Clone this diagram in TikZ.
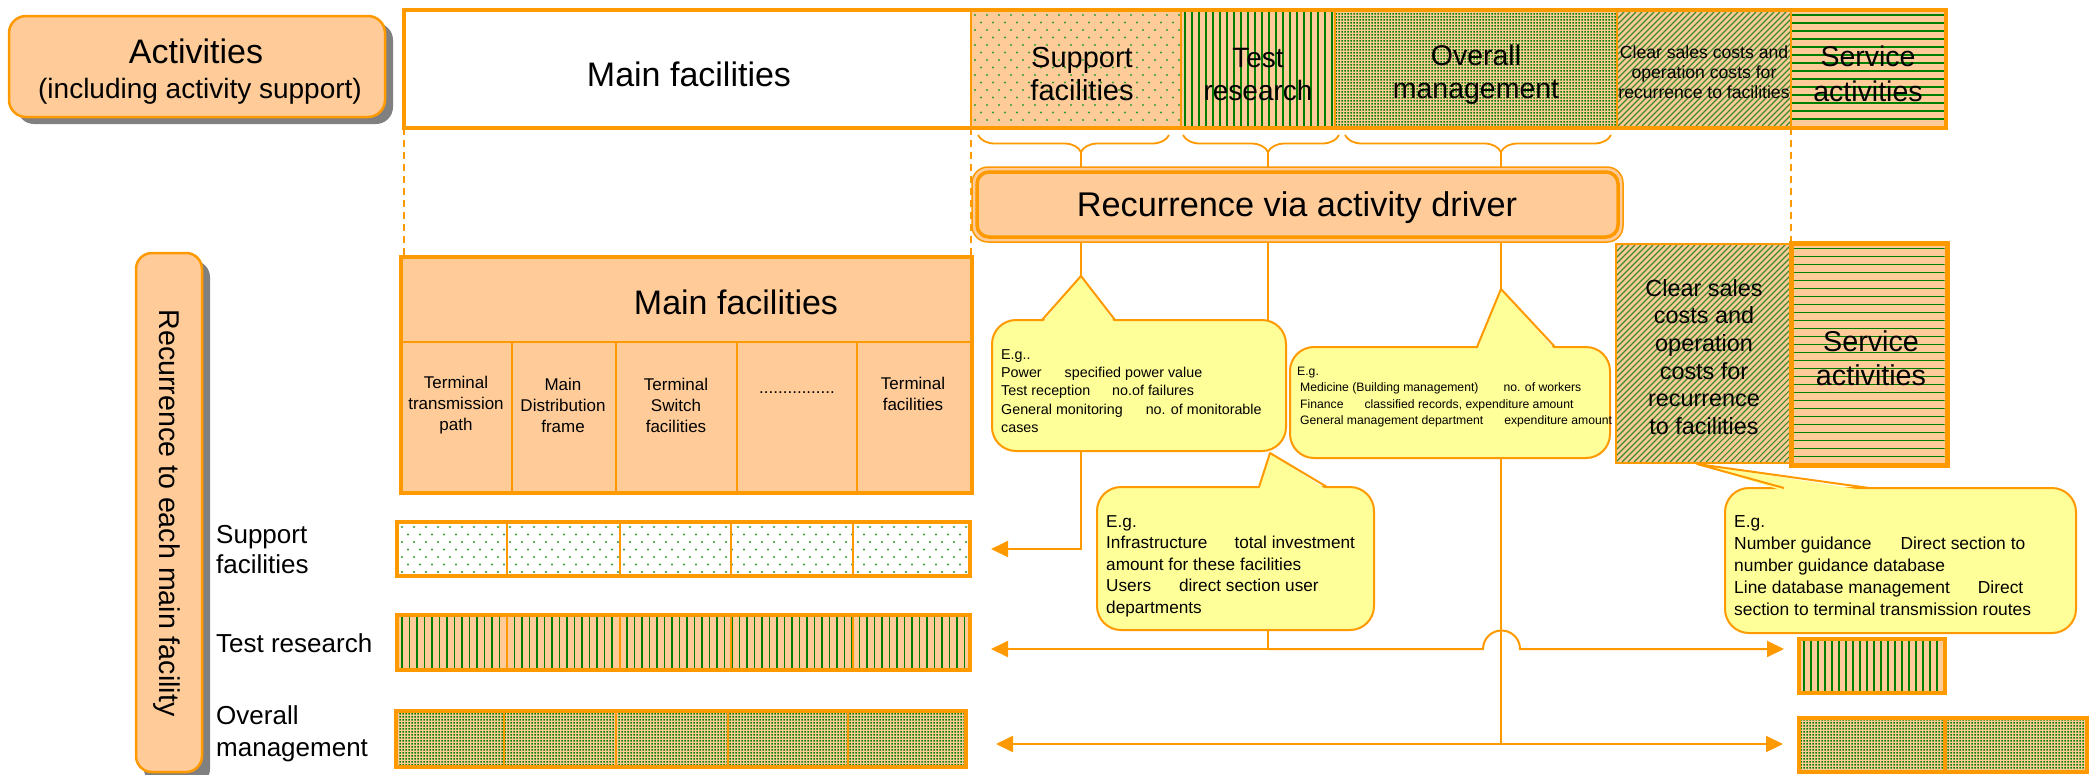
\documentclass[tikz,border=0pt]{standalone}
\usepackage{fontspec}
\setmainfont{Liberation Sans}
\usetikzlibrary{patterns,arrows.meta,decorations.pathreplacing}
\definecolor{orng}{HTML}{FF9900}
\definecolor{peach}{HTML}{FFCC99}
\definecolor{yel}{HTML}{FFFF99}
\definecolor{grn}{HTML}{008000}
\definecolor{hgrn}{HTML}{3C8A2E}
\definecolor{dotgrn}{HTML}{2E9E2E}
\definecolor{shad}{HTML}{808080}
\newcommand\myfs[2]{\fontsize{#1}{#2}\selectfont}
\pgfdeclarepatternformonly{fdot}{\pgfqpoint{0pt}{0pt}}{\pgfqpoint{3pt}{3pt}}{\pgfqpoint{3pt}{3pt}}{%
  \pgfpathrectangle{\pgfqpoint{0.6pt}{0.6pt}}{\pgfqpoint{1.8pt}{1.8pt}}%
  \pgfusepath{fill}}
% vertical lines: x1 y1 x2 y2 step
\newcommand\patvl[5]{%
  \begin{scope}\clip (#1,#2) rectangle (#3,#4);
  \pgfmathsetmacro\mya{#1+3}\pgfmathsetmacro\myb{#1+3+#5}
  \foreach \xx in {\mya,\myb,...,#3} \draw[grn, line width=1.5pt] (\xx,#2) -- (\xx,#4);
  \end{scope}}
% horizontal lines
\newcommand\pathl[5]{%
  \begin{scope}\clip (#1,#2) rectangle (#3,#4);
  \pgfmathsetmacro\mya{#2+3}\pgfmathsetmacro\myb{#2+3+#5}
  \foreach \yy in {\mya,\myb,...,#4} \draw[grn, line width=1.8pt] (#1,\yy) -- (#3,\yy);
  \end{scope}}
% diagonal lines
\newcommand\patdg[5]{%
  \begin{scope}\clip (#1,#2) rectangle (#3,#4);
  \pgfmathsetmacro\myh{#4-#2}
  \pgfmathsetmacro\mya{#1-\myh}\pgfmathsetmacro\myb{#1-\myh+#5}
  \foreach \xx in {\mya,\myb,...,#3} \draw[hgrn, line width=1.1pt] (\xx,#4) -- ({\xx+\myh},#2);
  \end{scope}}
% staggered dots
\newcommand\patsd[4]{%
  \begin{scope}\clip (#1,#2) rectangle (#3,#4);
  \pgfmathsetmacro\mya{#1+3}\pgfmathsetmacro\myb{#1+15}
  \pgfmathsetmacro\myc{#2+3}\pgfmathsetmacro\myd{#2+18}
  \foreach \xx in {\mya,\myb,...,#3} \foreach \yy in {\myc,\myd,...,#4}
    {\fill[dotgrn] (\xx,\yy) circle (1.05pt); \fill[dotgrn] ({\xx+6},{\yy+7.5}) circle (1.05pt);}
  \end{scope}}
\begin{document}
\begin{tikzpicture}[x=1pt,y=-1pt,
  box/.style={draw=orng, inner sep=0pt, outer sep=0pt, anchor=north west},
  wh/.style 2 args={minimum width=#1pt, minimum height=#2pt},
  txt/.style={inner sep=0pt, align=center, text=black},
  ltxt/.style={inner sep=0pt, align=left, anchor=west, text=black},
  conn/.style={draw=orng, line width=2pt},
  tip/.style={-{Triangle[length=17pt,width=16pt]}},
  dashln/.style={draw=orng, line width=2pt, dash pattern=on 7pt off 5pt},
  brc/.style={draw=orng, line width=1.8pt, decorate, decoration={brace, mirror, amplitude=17pt, aspect=#1}},
  callout/.style={box, fill=yel, line width=2pt, rounded corners=24pt},
  ptr/.style={draw=orng, line width=2pt, line join=round},
  pk/.style={fill=peach},
  fd/.style={preaction={fill=peach}, pattern=fdot, pattern color=grn},
  div/.style={draw=orng, line width=2pt},
]
\useasboundingbox (0,0) rectangle (2091,774);
\fill[white] (0,0) rectangle (2091,774);

% ---------- Activities box ----------
\fill[shad, rounded corners=17pt] (17,23) rectangle (393,124);
\node[box, wh={376}{101}, fill=peach, line width=2.5pt, rounded corners=17pt] (act) at (9,16) {};
\node[txt, font=\myfs{34}{40}] (tact1) at (196,51) {Activities};
\node[txt, font=\myfs{28}{32}] (tact2) at (200,91) {(including activity support)};

% ---------- top row ----------
\node[box, wh={567}{118}, fill=white, line width=1.5pt] (tmain) at (404,10) {};
\node[box, wh={210}{118}, pk, line width=1.5pt] (tsup) at (971,10) {};
\node[box, wh={154}{118}, pk, line width=1.5pt] (ttest) at (1181,10) {};
\node[box, wh={282}{118}, fd, line width=1.5pt] (tover) at (1335,10) {};
\node[box, wh={174}{118}, pk, line width=1.5pt] (tclear) at (1617,10) {};
\node[box, wh={155}{118}, pk, line width=1.5pt] (tserv) at (1791,10) {};
\patsd{972}{12}{1180}{126}
\patvl{1182}{12}{1334}{126}{7}
\patdg{1618}{12}{1790}{126}{6}
\pathl{1792}{12}{1945}{126}{8}
\draw[orng, line width=1.5pt] (tsup.north west) -- (tsup.south west) (ttest.north west) -- (ttest.south west) (tover.north west) -- (tover.south west) (tclear.north west) -- (tclear.south west) (tserv.north west) -- (tserv.south west);
\node[box, wh={1542}{118}, line width=4pt] (toprow) at (404,10) {};
\node[txt, font=\myfs{34}{40}] (ttmain) at (689,74) {Main facilities};
\node[txt, font=\myfs{29}{33}] (ttsup) at (1082,74.5) {Support\\facilities};
\node[txt, font=\myfs{28}{33}] (tttest) at (1258,74.5) {Test\\research};
\node[txt, font=\myfs{28.5}{33}] (ttover) at (1476,74.5) {Overall\\management};
\node[txt, font=\myfs{17.6}{20}] (ttclear) at (1704,72) {Clear sales costs and\\operation costs for\\recurrence to facilities};
\node[txt, font=\myfs{28.5}{35}] (ttserv) at (1868,73.4) {Service\\activities};

% ---------- braces ----------
\draw[brc=0.539] (978,135) -- (1169,135);
\draw[brc=0.545] (1183,135) -- (1339,135);
\draw[brc=0.586] (1345,135) -- (1611,135);
\coordinate (b1) at (1081,152);
\coordinate (b2) at (1268,152);
\coordinate (b3) at (1501,152);

% ---------- recurrence box ----------
\node[box, wh={651}{75}, fill=peach, line width=1.5pt, rounded corners=16pt] (rec) at (972,167) {};
\draw[orng, line width=3.5pt, rounded corners=12pt] ([shift={(5,5)}]rec.north west) rectangle ([shift={(-5,-5)}]rec.south east);
\node[txt, font=\myfs{34.3}{40}] (trec) at (1297,208) {Recurrence via activity driver};
\draw[conn] (b1) -- (b1 |- rec.north);
\draw[conn] (b2) -- (b2 |- rec.north);
\draw[conn] (b3) -- (b3 |- rec.north);

% ---------- lower main facilities ----------
\node[box, wh={571}{236}, fill=peach, line width=4pt] (lmain) at (401,257) {};
\draw[div] (401,342) -- (972,342);
\foreach \x in {512,616,737,857} \draw[div] (\x,342) -- (\x,493);
\node[txt, font=\myfs{34}{40}] (tlmain) at (736,302) {Main facilities};
\node[txt, font=\myfs{17}{21}] (c1t) at (456,405) {Terminal\\transmission\\path};
\node[txt, font=\myfs{17}{21}] (c2t) at (563,405) {Main\\Distribution\\frame};
\node[txt, font=\myfs{17}{21}] (c3t) at (676,405) {Terminal\\Switch\\facilities};
\node[txt, font=\myfs{17}{21}, anchor=base] (c4t) at (797,393) {................};
\node[txt, font=\myfs{17}{21}] (c5t) at (913,394) {Terminal\\facilities};

% dashed guides
\draw[dashln] (tmain.south west) -- (tmain.south west |- lmain.north);
\draw[dashln] (tsup.south west) -- (tsup.south west |- lmain.north);

% ---------- lower clear / service ----------
\node[box, wh={175}{219}, pk, line width=1.5pt] (lclear) at (1616,244) {};
\patdg{1617}{245}{1790}{462}{6}
\node[box, wh={156}{222}, pk, line width=5pt] (lserv) at (1791,243) {};
\pathl{1793.5}{245.5}{1944.5}{462.5}{8}
\node[txt, font=\myfs{23.4}{27.6}] (tlclear) at (1704,357) {Clear sales\\costs and\\operation\\costs for\\recurrence\\to facilities};
\node[txt, font=\myfs{28.7}{34}] (tlserv) at (1871,358) {Service\\activities};
\draw[dashln] (tserv.south west) -- (tserv.south west |- lserv.north);

% ---------- vertical label ----------
\fill[shad, rounded corners=16pt] (144,261) rectangle (210,785);
\node[box, wh={66}{519}, fill=peach, line width=2.5pt, rounded corners=16pt] (vbox) at (136,253) {};
\node[txt, rotate=-90, font=\myfs{28.6}{32}] (tvbox) at (167,513) {Recurrence to each main facility};

% ---------- left labels ----------
\node[ltxt, font=\myfs{26}{30}] (lsup) at (216,550) {Support\\facilities};
\node[ltxt, font=\myfs{26}{30}] (ltest) at (216,643) {Test research};
\node[ltxt, font=\myfs{26}{32}] (lover) at (216,734) {Overall\\management};

% ---------- bars ----------
\node[box, wh={573}{54}, fill=white, line width=4pt] (bsup) at (397,522) {};
\patsd{399}{524}{968}{574}
\foreach \x in {507,620,731,853} \draw[div] (\x,522) -- (\x,576);
\node[box, wh={573}{55}, pk, line width=4pt] (btest) at (397,615) {};
\patvl{399}{617}{968}{668}{7.5}
\foreach \x in {507,620,731,853} \draw[div] (\x,615) -- (\x,670);
\node[box, wh={570}{56}, fd, line width=4pt] (bover) at (396,711) {};
\foreach \x in {504,616,728,848} \draw[div] (\x,711) -- (\x,767);
\node[box, wh={146}{54}, pk, line width=4pt] (rtest) at (1799,639) {};
\patvl{1801}{641}{1943}{691}{7}
\node[box, wh={146}{54}, fd, line width=4pt] (rover1) at (1799,718) {};
\node[box, wh={142}{54}, fd, line width=4pt] (rover2) at (1945,718) {};

% ---------- callouts ----------
\node[callout, wh={294}{131}] (co1) at (992,320) {};
\node[callout, wh={320}{111}] (co2) at (1290,347) {};
\node[callout, wh={277}{143}] (co3) at (1097,487) {};
\node[callout, wh={351}{145}] (co4) at (1725,488) {};
\coordinate (a1) at (1081,276);
\coordinate (a2) at (1501,289);
\coordinate (a3) at (1270,453);
\coordinate (a4) at (1697,464);
\fill[yel] (1042,323) -- (a1) -- (1115,323) -- cycle;
\draw[ptr] (1042,320) -- (a1) -- (1115,320);
\fill[yel] (1477,350) -- (a2) -- (1555,350) -- cycle;
\draw[ptr] (1477,347) -- (a2) -- (1555,347);
\fill[yel] (1259,490) -- (a3) -- (1327,490) -- cycle;
\draw[ptr] (1259,487) -- (a3) -- (1327,487);
\fill[yel] (1784,491) -- (a4) -- (1869,491) -- cycle;
\draw[ptr] (1784,488) -- (a4) -- (1869,488);

\node[ltxt, font=\myfs{14.3}{18.3}] (tco1) at (1001,391) {E.g..\\Power\hspace{23pt}specified power value\\Test reception\hspace{22pt}no.of failures\\General monitoring\hspace{23pt}no. of monitorable\\cases};
\node[ltxt, font=\myfs{12.2}{16.4}] (tco2) at (1297,397) {E.g.\\\hspace*{3pt}Medicine (Building management)\hspace{25pt}no. of workers\\\hspace*{3pt}Finance\hspace{21pt}classified records, expenditure amount\\\hspace*{3pt}General management department\hspace{21pt}expenditure amount};
\node[ltxt, font=\myfs{17.2}{21.5}] (tco3) at (1106,566) {E.g.\\Infrastructure\hspace{27pt}total investment\\amount for these facilities\\Users\hspace{28pt}direct section user\\departments};
\node[ltxt, font=\myfs{17.4}{22}] (tco4) at (1734,566) {E.g.\\Number guidance\hspace{29pt}Direct section to\\number guidance database\\Line database management\hspace{28pt}Direct\\section to terminal transmission routes};

% ---------- connectors ----------
\coordinate (e1) at (991,549);
\coordinate (e2) at (991,649);
\coordinate (e3) at (1784,649);
\coordinate (e4) at (996,744);
\coordinate (e5) at (1783,744);
\draw[conn] (b1 |- rec.south) -- (a1);
\draw[conn] (b2 |- rec.south) -- (b2 |- co1.north);
\draw[conn] (b3 |- rec.south) -- (a2);
\draw[conn, tip] (b1 |- co1.south) -- (b1 |- e1) -- (e1);
\draw[conn, tip] (b2 |- co3.south) -- (b2 |- e2) -- (e2);
\draw[conn, tip] (b2 |- e2) -- (1483,649) .. controls (1483,638.8) and (1491.3,630.5) .. (1501.5,630.5) .. controls (1511.7,630.5) and (1520,638.8) .. (1520,649) -- (e3);
\draw[conn] (b3 |- co2.south) -- (b3 |- e4);
\draw[conn, {Triangle[length=17pt,width=16pt]}-{Triangle[length=17pt,width=16pt]}] (e4) -- (e5);
\end{tikzpicture}
\end{document}
